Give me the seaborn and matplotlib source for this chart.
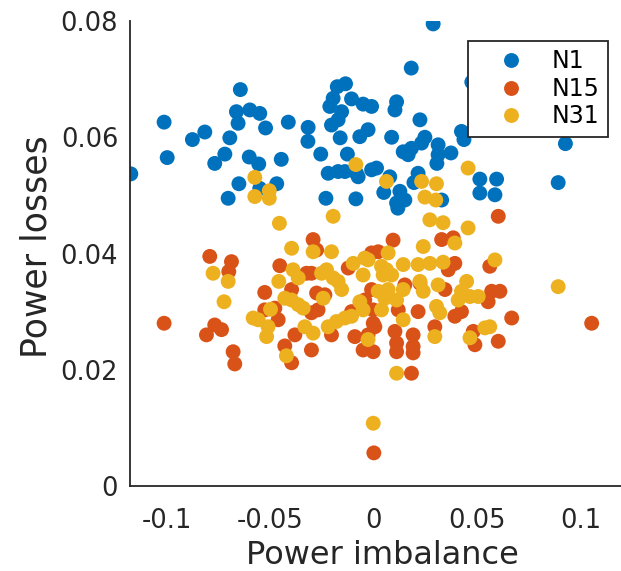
import matplotlib
matplotlib.use("Agg")
import matplotlib.pyplot as plt
import seaborn as sns
import pandas as pd

# ---------------- data ----------------
n1_x = [-0.1176, -0.1015, -0.1000, -0.0878, -0.0818, -0.0770, -0.0721, -0.0697, -0.0646, -0.0665,
        -0.0657, -0.0600, -0.0552, -0.0524, -0.0603, -0.0557, -0.0653, -0.0705, -0.0470, -0.0552,
        -0.0448, -0.0414, -0.0318, -0.0319, -0.0257, -0.0232, -0.0087, -0.0221, -0.0173, -0.0140,
        -0.0128, -0.0163, -0.0205, -0.0173, -0.0213, -0.0197, -0.0177, -0.0137, -0.0108, -0.0156,
        -0.0052, -0.0011, -0.0068, -0.0028, -0.0076, -0.0011, 0.0287, 0.0181, 0.0110, 0.0102,
        0.0223, 0.0086, 0.0247, 0.0231, 0.0142, 0.0182, 0.0166, 0.0311, 0.0311, 0.0305,
        0.0373, 0.0424, 0.0436, -0.0084, 0.0013, 0.0077, 0.0048, 0.0126, 0.0110, 0.0150,
        0.0116, 0.0214, 0.0194, 0.0328, 0.0513, 0.0594, 0.0513, 0.0586, 0.0892, 0.0927,
        0.0474]
n1_y = [0.0537, 0.0626, 0.0565, 0.0596, 0.0609, 0.0555, 0.0571, 0.0599, 0.0682, 0.0644,
        0.0624, 0.0647, 0.0641, 0.0616, 0.0566, 0.0554, 0.0520, 0.0495, 0.0520, 0.0512,
        0.0562, 0.0626, 0.0617, 0.0593, 0.0571, 0.0495, 0.0494, 0.0538, 0.0541, 0.0541,
        0.0571, 0.0599, 0.0621, 0.0630, 0.0653, 0.0667, 0.0687, 0.0692, 0.0666, 0.0644,
        0.0657, 0.0653, 0.0601, 0.0613, 0.0532, 0.0544, 0.0795, 0.0719, 0.0661, 0.0647,
        0.0630, 0.0600, 0.0600, 0.0590, 0.0575, 0.0581, 0.0570, 0.0587, 0.0570, 0.0555,
        0.0573, 0.0610, 0.0596, 0.0538, 0.0547, 0.0532, 0.0505, 0.0507, 0.0487, 0.0492,
        0.0478, 0.0538, 0.0522, 0.0492, 0.0528, 0.0528, 0.0504, 0.0501, 0.0522, 0.0589,
        0.0695]

n15_x = [-0.1015, -0.0794, -0.0689, -0.0702, -0.0770, -0.0737, -0.0810, -0.0681, -0.0673, -0.0528,
         -0.0455, -0.0479, -0.0463, -0.0431, -0.0398, -0.0294, -0.0277, -0.0302, -0.0326, -0.0398,
         -0.0277, -0.0237, -0.0302, -0.0270, -0.0302, -0.0205, -0.0382, -0.0124, -0.0092, -0.0052,
         -0.0011, -0.0003, -0.0003, -0.0108, -0.0011, 0.0602, 0.0093, 0.0021, 0.0328, 0.0384,
         0.0392, 0.0360, 0.0561, 0.0570, 0.0610, 0.0553, 0.0667, 0.1054, 0.0602, 0.0481,
         0.0489, 0.0424, 0.0392, -0.0044, 0.0005, -0.0028, -0.0003, 0.0102, 0.0110, 0.0110,
         0.0190, 0.0190, 0.0190, 0.0118, 0.0214, 0.0223, 0.0182, 0.0295, 0.0344, 0.0150,
         0.0000, -0.0528]
n15_y = [0.0280, 0.0395, 0.0386, 0.0369, 0.0277, 0.0269, 0.0260, 0.0231, 0.0210, 0.0333,
         0.0379, 0.0306, 0.0286, 0.0241, 0.0212, 0.0424, 0.0406, 0.0366, 0.0366, 0.0338,
         0.0332, 0.0329, 0.0298, 0.0303, 0.0234, 0.0260, 0.0260, 0.0375, 0.0257, 0.0234,
         0.0338, 0.0303, 0.0280, 0.0300, 0.0401, 0.0464, 0.0423, 0.0403, 0.0424, 0.0427,
         0.0383, 0.0372, 0.0378, 0.0335, 0.0335, 0.0317, 0.0289, 0.0280, 0.0249, 0.0266,
         0.0243, 0.0300, 0.0292, 0.0320, 0.0274, 0.0260, 0.0231, 0.0266, 0.0246, 0.0231,
         0.0260, 0.0240, 0.0229, 0.0303, 0.0300, 0.0349, 0.0194, 0.0274, 0.0338, 0.0346,
         0.0057, 0.0303]

n31_x = [-0.0576, -0.0576, -0.0506, -0.0506, -0.0457, -0.0197, -0.0087, -0.0778, -0.0705, -0.0725,
         -0.0584, -0.0560, -0.0500, -0.0512, -0.0519, -0.0460, -0.0398, -0.0391, -0.0366, -0.0431,
         -0.0398, -0.0366, -0.0342, -0.0423, -0.0334, -0.0294, -0.0294, -0.0253, -0.0229, -0.0205,
         -0.0197, -0.0173, -0.0156, -0.0245, -0.0221, -0.0181, -0.0140, -0.0108, -0.0100, -0.0044,
         -0.0052, -0.0068, -0.0052, -0.0028, 0.0061, 0.0231, 0.0303, 0.0247, 0.0300, 0.0456,
         0.0271, 0.0335, 0.0456, 0.0392, 0.0239, 0.0069, -0.0028, 0.0142, 0.0214, 0.0271,
         0.0335, 0.0586, 0.0037, 0.0061, 0.0045, 0.0086, 0.0021, 0.0069, 0.0142,
         0.0053, 0.0110, 0.0037, 0.0223, 0.0239, 0.0311, 0.0303, 0.0319, 0.0449, 0.0424,
         0.0408, 0.0465, 0.0505, 0.0142, 0.0295, 0.0465, 0.0537, 0.0561, 0.0892, 0.0110,
         -0.0003]
n31_y = [0.0531, 0.0498, 0.0508, 0.0495, 0.0452, 0.0464, 0.0553, 0.0366, 0.0352, 0.0317,
         0.0289, 0.0286, 0.0304, 0.0274, 0.0257, 0.0352, 0.0409, 0.0372, 0.0358, 0.0323,
         0.0320, 0.0312, 0.0306, 0.0224, 0.0274, 0.0263, 0.0403, 0.0366, 0.0372, 0.0403,
         0.0358, 0.0352, 0.0338, 0.0323, 0.0274, 0.0283, 0.0289, 0.0292, 0.0383, 0.0392,
         0.0363, 0.0317, 0.0303, 0.0252, 0.0524, 0.0524, 0.0520, 0.0497, 0.0492, 0.0547,
         0.0458, 0.0453, 0.0444, 0.0418, 0.0412, 0.0401, 0.0389, 0.0381, 0.0381, 0.0383,
         0.0385, 0.0389, 0.0378, 0.0372, 0.0363, 0.0363, 0.0335, 0.0338, 0.0338,
         0.0323, 0.0320, 0.0303, 0.0352, 0.0335, 0.0346, 0.0309, 0.0298, 0.0352, 0.0335,
         0.0320, 0.0326, 0.0326, 0.0286, 0.0257, 0.0255, 0.0272, 0.0274, 0.0343, 0.0194,
         0.0108]

series_names = ["N1", "N15", "N31"]
series_colors = ["#0072BD", "#D95319", "#EDB120"]
x_ticks = [-0.1, -0.05, 0, 0.05, 0.1]
x_tick_labels = ["-0.1", "-0.05", "0", "0.05", "0.1"]
y_ticks = [0, 0.02, 0.04, 0.06, 0.08]
y_tick_labels = ["0", "0.02", "0.04", "0.06", "0.08"]
x_label = "Power imbalance"
y_label = "Power losses"

# ---------------- build table ----------------
df = pd.concat([
    pd.DataFrame({"x": n1_x, "y": n1_y, "series": "N1"}),
    pd.DataFrame({"x": n15_x, "y": n15_y, "series": "N15"}),
    pd.DataFrame({"x": n31_x, "y": n31_y, "series": "N31"}),
], ignore_index=True)

sns.set_style("white")
plt.rcParams["font.family"] = ["DejaVu Sans"]

DPI = 100
fig = plt.figure(figsize=(6.21, 5.71), dpi=DPI)
W, H = 621, 571
ax = fig.add_axes([130 / W, 85 / H, 0.792, 465 / H])

sns.scatterplot(data=df, x="x", y="y", hue="series", hue_order=series_names,
                palette=series_colors, s=115, linewidth=0, marker="o",
                ax=ax, legend=True)

ax.set_xlim(-0.118, 0.12)
ax.set_ylim(0, 0.08)
ax.set_xticks(x_ticks)
ax.set_xticklabels(x_tick_labels)
ax.set_yticks(y_ticks)
ax.set_yticklabels(y_tick_labels)

dark = "#262626"
for side in ["top", "right"]:
    ax.spines[side].set_visible(False)
for side in ["left", "bottom"]:
    ax.spines[side].set_color(dark)
    ax.spines[side].set_linewidth(1.3)

ax.tick_params(axis="both", direction="in", length=4, width=1, colors=dark,
               labelsize=18.5, labelcolor=dark)
ax.tick_params(axis="x", pad=16)
ax.tick_params(axis="y", pad=8.5)

ax.set_xlabel(x_label, fontsize=23, color=dark)
ax.set_ylabel(y_label, fontsize=25, color=dark)
axw = 0.792 * W
axh = 465
ax.xaxis.set_label_coords((382.5 - 130) / axw, (486 - 540) / axh)
ax.yaxis.set_label_coords((54 - 130) / axw, (486 - 246.5) / axh)

handles, labels = ax.get_legend_handles_labels()
leg = ax.legend(handles, labels, loc="upper left",
                bbox_to_anchor=(468 / W, 1 - 41 / H), bbox_transform=fig.transFigure,
                frameon=True, fancybox=False, framealpha=1, edgecolor=dark,
                fontsize=17, borderpad=0.35, handlelength=2.9, handletextpad=0.3,
                labelspacing=0.15, borderaxespad=0, markerscale=1.0)
leg.get_frame().set_linewidth(1.3)
for t in leg.get_texts():
    t.set_color("black")

fig.savefig("out.png", dpi=DPI)
